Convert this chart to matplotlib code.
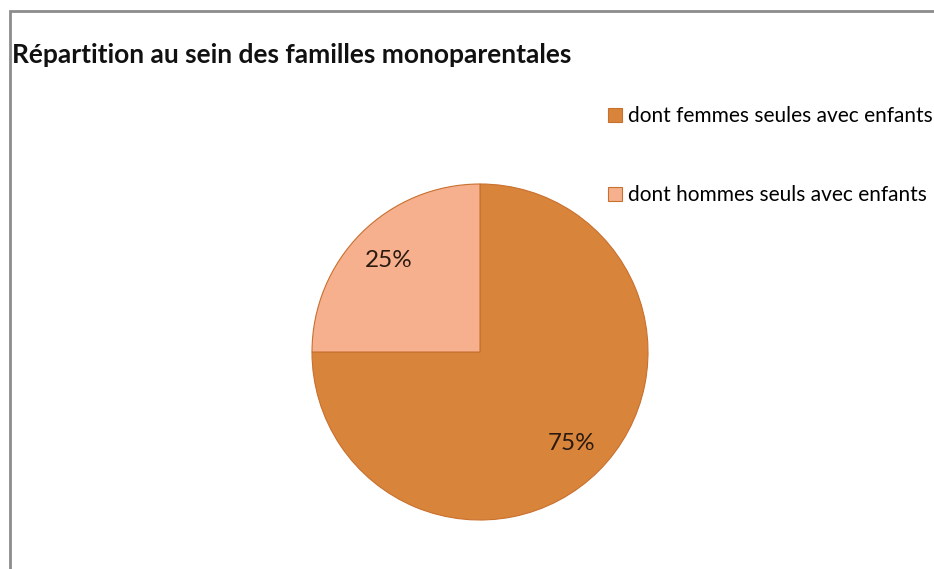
import matplotlib.pyplot as plt
from matplotlib.patches import Rectangle

# data
labels = ['dont femmes seules avec enfants', 'dont hommes seuls avec enfants']
shares = [75, 25]
colors = ['#D9843B', '#F6B08E']
title = 'Répartition au sein des familles monoparentales'

W, H = 934, 569
fig = plt.figure(figsize=(W / 100, H / 100), dpi=100)
plt.rcParams['font.family'] = ['Lato', 'DejaVu Sans']

# gray frame around the chart (right and bottom edges cut off)
fig.patches.append(Rectangle((10 / W, -0.1), 1.2, 1 - 11 / H + 0.1, transform=fig.transFigure,
                             fill=False, edgecolor='#8c8c8c', linewidth=2))

fig.text(12 / W, 1 - 55 / H, title, fontsize=19, fontweight='bold', color='#111111', va='center')

# pie: center (480, 352), radius 168 px
r = 168
ax = fig.add_axes([(480 - r) / W, 1 - (352 + r) / H, 2 * r / W, 2 * r / H])
wedges, texts, autotexts = ax.pie(shares, colors=colors, startangle=90, counterclock=False,
                                  autopct='%d%%', pctdistance=0.77,
                                  wedgeprops=dict(edgecolor='#C8702E', linewidth=0.8),
                                  textprops=dict(fontsize=17.5, color='#2a1a10'))
ax.set_aspect('equal')
ax.set_xlim(-1, 1)
ax.set_ylim(-1, 1)

ax.legend(wedges, labels, loc='upper left', bbox_to_anchor=(608 / W, 1 - 106 / H),
          bbox_transform=fig.transFigure, frameon=False, fontsize=15,
          handlelength=0.65, handleheight=0.65, handletextpad=0.3, labelspacing=2.85,
          borderaxespad=0, borderpad=0)

fig.savefig('out.png', dpi=100)
